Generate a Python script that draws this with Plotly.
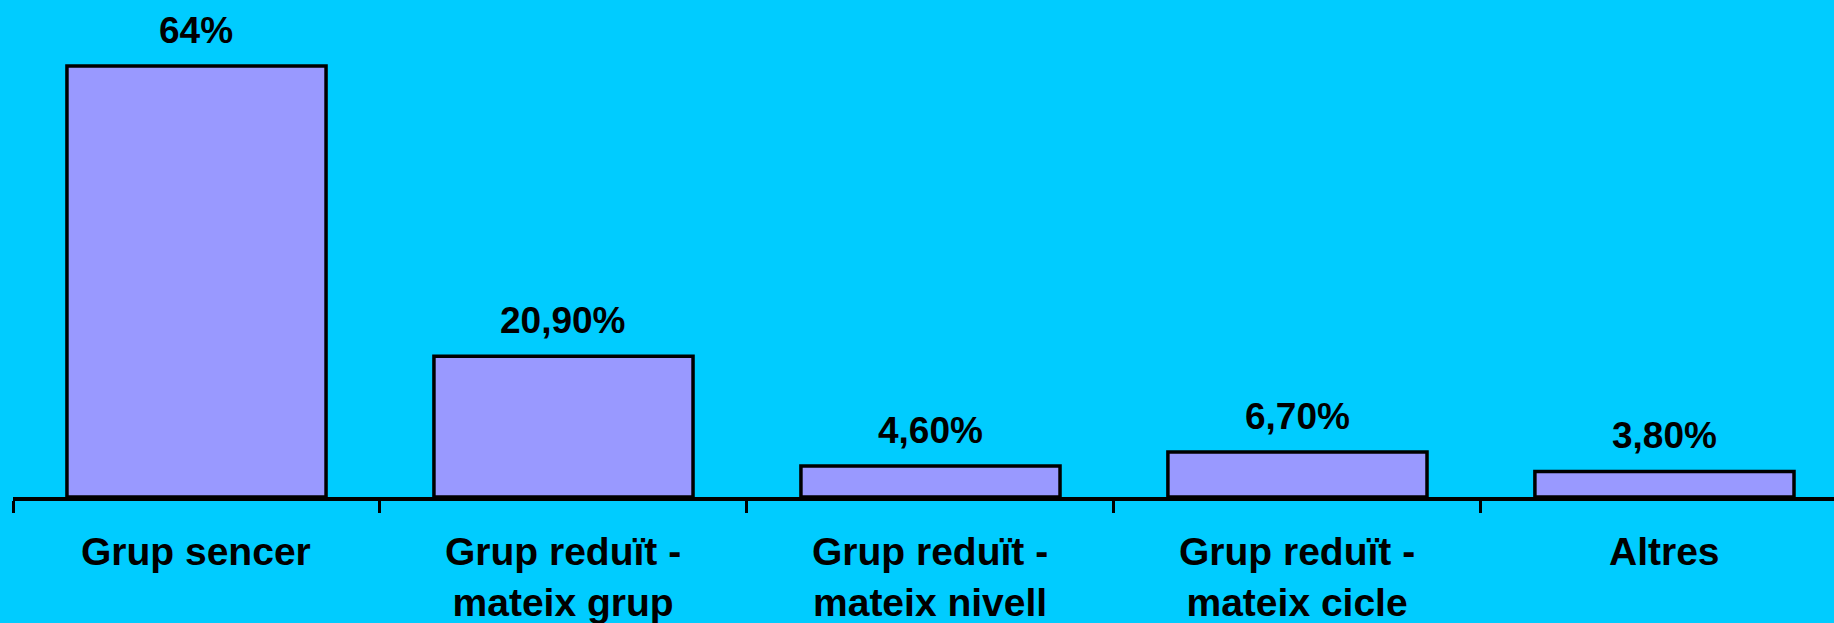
import plotly.graph_objects as go

categories = ["Grup sencer", "Grup reduït -<br>mateix grup", "Grup reduït -<br>mateix nivell",
              "Grup reduït -<br>mateix cicle", "Altres"]
values = [64, 20.9, 4.6, 6.7, 3.8]
value_labels = ["64%", "20,90%", "4,60%", "6,70%", "3,80%"]

W, H = 1834, 623
BG = "#00CCFF"
BAR = "#9999FF"
FONT = "Liberation Sans, Arial, sans-serif"

xpos = list(range(len(categories)))
fig = go.Figure()
fig.add_trace(go.Bar(
    x=xpos, y=values, width=0.706,
    marker=dict(color=BAR, line=dict(color="black", width=3.5)),
    hoverinfo="skip",
))

for xi, v, lab in zip(xpos, values, value_labels):
    fig.add_annotation(x=xi, y=v, text="<b>%s</b>" % lab, showarrow=False,
                       yanchor="bottom", yshift=13,
                       font=dict(family=FONT, size=37, color="black"))

for xi, c in zip(xpos, categories):
    fig.add_annotation(x=xi, y=0, text="<b>%s</b>" % c, showarrow=False,
                       yanchor="top", yshift=-31, align="center",
                       font=dict(family=FONT, size=39, color="black"))

fig.update_layout(
    width=W, height=H,
    paper_bgcolor=BG, plot_bgcolor=BG,
    margin=dict(l=13, r=0, t=0, b=126),
    showlegend=False,
    bargap=0.3,
)
fig.update_xaxes(
    range=[-0.5, 4.462], showgrid=False, zeroline=False,
    showline=True, linecolor="black", linewidth=4,
    tickmode="array", tickvals=[-0.5, 0.5, 1.5, 2.5, 3.5], ticktext=["", "", "", "", ""],
    ticks="outside", ticklen=12, tickwidth=3, tickcolor="black",
    fixedrange=True,
)
fig.update_yaxes(
    range=[0, 73.8], visible=False, showgrid=False, zeroline=False, fixedrange=True,
)

fig.write_html(
    "out.html",
    config={"displayModeBar": False},
    post_script="document.body.style.margin='0';document.body.style.padding='0';"
                "document.body.style.overflow='hidden';"
                "document.body.style.background='#00CCFF';",
)
